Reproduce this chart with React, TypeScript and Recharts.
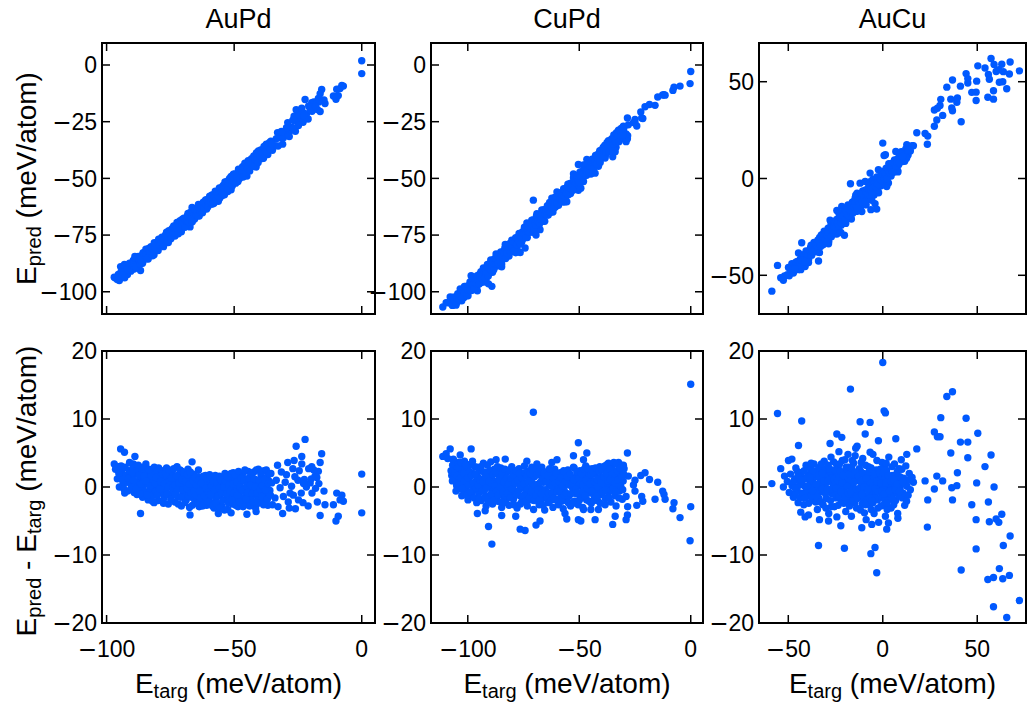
import React from 'react';
import { ScatterChart, Scatter, XAxis, YAxis, ReferenceArea } from 'recharts';

// [E_targ, E_pred - E_targ] in meV/atom.
// The upper panels plot E_pred = E_targ + residual for the same structures.
const auPdPoints: [number, number][] = [
  [-97, 3.4], [-94.5, 5.6], [-93, 5.1], [-95.4, 3.0], [-94.8, 1.6], [-95, 0], [-92, 0.7], [-88.9, 4.5], [-89.5, 3.4],
  [-84.6, 3.4], [-86.7, -3.9], [-81.4, -2.3], [-66.5, 3.7], [-64, 2.5], [-67.3, -4.1], [-56.2, -3.9], [-51.2, -3.8],
  [-45, -4], [-41.4, -3.6], [-41.6, -3.1], [-33, 3.2], [-31, -3.9], [-29, 3.6], [-26.5, 3.9], [-25.7, 6.0], [-22.2, 7.0],
  [-23.5, 4.5], [-23.5, 3.4], [-26, -3.2], [-19.6, 3.0], [-15.7, 4.9], [-16.3, 3.6], [-17, 2.3], [-16.3, -4.2],
  [-17.4, -2.2], [-14.4, -2.6], [-14.8, -0.6], [-11.1, -2.6], [-9.8, -0.9], [-10.1, -5.0], [-9.2, -4.3], [-8.5, -1.9],
  [-7.2, -2.1], [-7.8, -1.2], [0, 1.9], [0, -3.8],
  [-30, 0.7], [-32, -0.1], [-30.7, -1.4], [-28.8, -2.2], [-28.1, -0.9], [-27.5, 0.1], [-26.2, 1.5], [-25, 1.0],
  [-23.7, -0.9], [-23, -2.3], [-21.7, 0.0], [-22.5, 1.1], [-20.2, 0.6], [-19.5, -0.9], [-21, -2.8], [-18.3, 1.6],
  [-18.8, 2.5], [-20.8, 2.7], [-24.5, 2.4], [-27, 2.7], [-29.5, 1.8], [-31.5, 2.2], [-33.5, 1.0], [-34, -1.6],
  [-35, -2.6], [-32.8, -2.9], [-28.4, -3.1], [-24.8, -1.9], [-19.8, 1.2], [-17.6, 1.4], [-16.8, 0.5], [-18.1, -0.2],
  [-26.8, -1.2], [-22.8, 0.5],
  [-96.5, 2.6], [-95.8, 1.2], [-94, 2.2], [-93.5, 0.4], [-93.2, -0.3], [-92.7, 2.9], [-92.3, 1.7], [-91.8, -0.6],
  [-91.2, 2.4], [-90.8, 0.9], [-90.5, -0.4], [-90.1, 1.6], [-89.7, 2.8], [-89.2, -0.8], [-88.8, 0.3], [-88.4, 1.9],
  [-88.1, -1.1], [-87.9, 2.6], [-87.4, 0.8], [-87, -0.2], [-86.6, 1.5], [-86.2, 2.2], [-85.9, -1.5], [-85.5, 0.2],
  [-85.1, 1.1], [-84.8, -0.7], [-84.3, 2.0], [-84, 0.6], [-83.7, -1.9], [-83.3, 1.4], [-83, -0.4], [-82.6, 2.5],
  [-82.2, 0.9], [-81.9, -1.2], [-81.5, 0.1], [-81.1, 1.8], [-80.8, -0.6], [-80.4, 1.0], [-80.1, 2.1], [-79.8, -2.0],
  [-79.4, 0.4], [-79, 1.5], [-78.6, -0.9], [-78.3, 2.4], [-77.9, 0.0], [-77.5, -1.6], [-77.2, 1.2], [-76.8, -0.3],
  [-76.5, 2.8], [-76.1, 0.7], [-75.8, -2.5], [-75.4, 1.6], [-75, -1.0], [-74.7, 0.3], [-74.3, 2.2], [-73.9, -0.6],
  [-73.5, 1.0], [-73.2, -2.2], [-72.8, 0.5], [-72.4, 3.0], [-72.1, -1.4], [-71.8, 1.8], [-71.4, -0.2], [-71, 0.9],
  [-70.7, -2.8], [-70.3, 2.3], [-69.9, -1.0], [-69.5, 0.2], [-69.2, 1.4], [-68.8, -1.9], [-68.5, 0.6], [-68.1, 2.6],
  [-67.8, -0.7], [-67.5, -3.0], [-67, 1.2], [-66.7, -1.5], [-66.2, 0.1], [-65.9, 1.9], [-65.5, -2.4], [-65.1, -0.5],
  [-64.8, 0.8], [-64.4, -1.7], [-64.1, 1.5], [-63.7, -2.9], [-63.4, 0.0], [-63, -1.0], [-62.6, 1.1], [-62.3, -2.1],
  [-61.9, 0.4], [-61.5, -0.7], [-61.2, 1.7], [-60.8, -2.7], [-60.5, -0.2], [-60.1, 0.9], [-59.8, -1.5], [-59.4, 0.5],
  [-59, -2.3], [-58.7, 1.4], [-58.3, -0.9], [-57.9, -3.1], [-57.6, 0.2], [-57.2, -1.7], [-56.9, 1.0], [-56.5, -0.4],
  [-56.1, -2.6], [-55.8, 1.6], [-55.4, -1.2], [-55, 0.4], [-54.7, -2.9], [-54.3, 1.2], [-53.9, -0.6], [-53.6, 2.0],
  [-53.2, -1.8], [-52.8, 0.7], [-52.5, -3.3], [-52.1, -0.1], [-51.8, 1.8], [-51.4, -1.4], [-51, 0.9], [-50.7, -2.5],
  [-50.3, 2.1], [-49.9, -0.3], [-49.6, 1.3], [-49.2, -1.9], [-48.8, 0.3], [-48.5, -2.9], [-48.1, 1.6], [-47.8, -0.8],
  [-47.4, 0.8], [-47, -1.6], [-46.7, 1.9], [-46.3, -0.2], [-45.9, -2.6], [-45.6, 1.1], [-45.2, -1.1], [-44.8, 0.4],
  [-44.5, 2.3], [-44.1, -2.0], [-43.8, -0.5], [-43.4, 1.5], [-43, -1.3], [-42.7, 0.6], [-42.3, 2.2], [-41.9, -2.4],
  [-41.5, -0.3], [-41.2, 1.0], [-40.8, -1.6], [-40.5, 2.6], [-40.1, 0.2], [-39.8, -0.9], [-39.4, 1.7], [-39, -2.2],
  [-38.7, 0.7], [-38.3, 2.4], [-37.9, -1.1], [-37.5, 0.1], [-37.2, 1.4], [-36.8, -2.7], [-36.4, 0.9], [-36, -0.5],
  [-35.6, 2.0],
  [-95.2, 2.0], [-94.3, 3.1], [-93.8, 1.0], [-92.9, -0.9], [-91.5, 1.3], [-91, 3.6], [-90.3, 0.0], [-89.9, 2.1],
  [-89.4, 1.0], [-88.6, -0.3], [-87.6, 3.2], [-87.2, 1.7], [-86.8, -1.0], [-86.4, 0.4], [-85.7, 2.9], [-85.3, 1.6],
  [-84.6, 0.9], [-84.1, -1.2], [-83.5, 2.6], [-82.9, 0.2], [-82.4, 1.6], [-82, -2.1], [-81.3, 2.9], [-81, 0.5],
  [-80.6, 1.4], [-80.2, -1.2], [-79.6, 2.8], [-79.2, -0.3], [-78.8, 0.8], [-78.1, 1.9], [-77.7, -2.4], [-77.3, 0.5],
  [-76.9, 2.0], [-76.3, -1.1], [-75.9, 0.0], [-75.6, 2.5], [-75.2, 0.9], [-74.8, -1.8], [-74.5, 1.3], [-74, -0.1],
  [-73.7, 2.7], [-73.3, 0.3], [-73, -1.1], [-72.6, 1.6], [-72.2, -0.4], [-71.9, -2.5], [-71.6, 0.6], [-71.2, 2.5],
  [-70.9, -1.5], [-70.5, 1.1], [-70.1, -0.4], [-69.7, 2.1], [-69.3, -2.3], [-69, 0.8], [-68.6, -0.2], [-68.3, 1.8],
  [-67.9, -1.3], [-67.6, 0.4], [-67.2, 2.2], [-66.9, -0.9], [-66.4, -2.7], [-66, 0.9], [-65.7, -0.6], [-65.3, 1.4],
  [-64.9, -1.2], [-64.6, 0.3], [-64.2, -2.3], [-63.9, 1.0], [-63.5, -0.6], [-63.2, -1.6], [-62.8, 0.6], [-62.4, -2.8],
  [-62.1, 1.6], [-61.7, -1.3], [-61.4, 0.2], [-61, -0.2], [-60.7, 1.3], [-60.3, -2.2], [-60, -0.8], [-59.6, 1.8],
  [-59.2, -1.1], [-58.9, 0.1], [-58.5, -2.8], [-58.1, 0.8], [-57.7, -0.4], [-57.4, 1.7], [-57, -2.4], [-56.7, 0.5],
  [-56.3, -1.3], [-55.9, -0.2], [-55.6, -3.1], [-55.2, 1.0], [-54.9, -0.8], [-54.5, -2.0], [-54.1, 0.0], [-53.8, -3.4],
  [-53.4, 0.9], [-53, -1.0], [-52.7, 1.5], [-52.3, -2.3], [-52, 0.3], [-51.6, -0.6], [-51.2, 2.0], [-50.9, -1.9],
  [-50.5, 0.4], [-50.1, -0.9], [-49.8, 1.8], [-49.4, -2.7], [-49, 0.7], [-48.7, -1.2], [-48.3, 2.3], [-47.9, -2.2],
  [-47.6, 0.0], [-47.2, 1.3], [-46.9, -0.5], [-46.5, -2.9], [-46.1, 0.9], [-45.8, 2.5], [-45.4, -1.8], [-45, 0.2],
  [-44.7, -0.8], [-44.3, 1.3], [-43.9, -2.8], [-43.6, 0.3], [-43.2, 1.9], [-42.9, -0.9], [-42.5, -2.2], [-42.1, 1.2],
  [-41.7, 0.0], [-41.3, 2.5], [-41, -0.9], [-40.6, -2.4], [-40.3, 1.0], [-39.9, -0.3], [-39.6, 2.1], [-39.2, -1.4],
  [-38.9, 0.2], [-38.5, -2.6], [-38.1, 1.1], [-37.7, -0.4], [-37.4, 2.5], [-37, -1.8], [-36.6, 0.5], [-36.2, 1.9],
  [-35.8, -1.2], [-35.3, 0.6],
];

const cuPdPoints: [number, number][] = [
  [-111.2, 4.5], [-109.7, 4.9], [-107.9, 5.6], [-109, 4.2], [-106.4, 3.9], [-103.4, 4.7], [-107.2, 1.7], [-105.2, 0.7],
  [-102.7, -1.3], [-98.5, 5.6], [-101.5, 3.8], [-95.7, -3.9], [-92.2, -3.5], [-90.7, -5.8], [-89.2, -8.4], [-70.6, 11.0],
  [-78.5, -4.3], [-84.8, -4.2], [-76.5, -6.2], [-74.3, -6.4], [-69.4, -5.6], [-67.6, -5.0], [-73.5, 3.8], [-69, 3.4],
  [-62.3, 3.6], [-60, 4.0], [-56.4, -3.9], [-55.6, -4.7], [-52.6, 4.6], [-50.4, 6.5], [-52.3, 2.8], [-50.4, -4.8],
  [-49.3, -5.0], [-48.1, 4.0], [-46.6, 5.0], [-48.1, -3.3], [-42.9, -4.8], [-44.8, -3.3], [-41.4, -3.3], [-39.2, 2.9],
  [-36.9, 3.5], [-35, -5.5], [-33.9, -4.3], [-33.5, -2.8], [-38.4, -2.6], [-32.4, 3.6], [-30.2, 3.2], [-28.4, 5.0],
  [-29, -4.8], [-28.4, -4.1], [-28.3, -2.9], [-29, -1.4], [-28, 1.6], [-25.7, 0.3], [-25, -0.6], [-25, 1.0],
  [-24.2, -2.7], [-22, -1.4], [-21.5, -2.1], [-22.4, 1.7], [-20.5, 2.1], [-18.5, 1.1], [-16, -1.8], [-14.8, 0.7],
  [-12.6, -0.6], [-12, -1.1], [-11.5, -1.8], [-7.5, -2.3], [-8, -3.2], [-4.8, -4.5], [0, 15.1], [0, -2.9], [-0.3, -7.9],
  [-106.8, 3.2], [-106.2, 1.4], [-105.6, 2.5], [-105, 0.2], [-104.5, 3.6], [-104, 1.0], [-103.6, -0.3], [-103.1, 2.2],
  [-102.6, 0.6], [-102.1, 3.0], [-101.7, -0.8], [-101.2, 1.7], [-100.8, 0.0], [-100.3, 2.6], [-99.9, -1.9], [-99.5, 1.1],
  [-99, 3.3], [-98.6, 0.4], [-98.1, -1.2], [-97.7, 2.0], [-97.3, -0.4], [-96.9, 3.0], [-96.4, 0.8], [-96, -2.3],
  [-95.6, 1.5], [-95.1, -0.9], [-94.7, 2.4], [-94.3, 0.1], [-93.9, -2.0], [-93.5, 1.2], [-93, 3.5], [-92.6, -0.6],
  [-92.2, 0.7], [-91.8, -2.8], [-91.4, 2.1], [-91, 0.3], [-90.6, -1.4], [-90.1, 1.6], [-89.7, 3.7], [-89.3, -0.2],
  [-88.9, -2.5], [-88.5, 0.9], [-88.1, 2.6], [-87.7, -1.0], [-87.3, 4.0], [-86.9, 0.5], [-86.5, -2.1], [-86.1, 1.8],
  [-85.6, -0.5], [-85.2, 2.8], [-84.8, -3.0], [-84.4, 0.2], [-84, 1.3], [-83.6, -1.6], [-83.2, 4.1], [-82.8, -0.3],
  [-82.4, 2.2], [-82, 0.7], [-81.5, -2.7], [-81.1, 1.0], [-80.7, -0.9], [-80.3, 3.0], [-79.9, 0.1], [-79.5, -1.8],
  [-79.1, 2.0], [-78.7, -0.6], [-78.3, 1.4], [-77.9, -3.1], [-77.4, 0.5], [-77, 2.7], [-76.6, -1.3], [-76.2, 0.9],
  [-75.8, -2.2], [-75.4, 1.9], [-75, -0.1], [-74.6, 3.1], [-74.2, -1.0], [-73.8, 0.6], [-73.3, -2.8], [-72.9, 2.3],
  [-72.5, -0.4], [-72.1, 1.2], [-71.7, -1.9], [-71.3, 2.9], [-70.9, 0.2], [-70.5, -3.3], [-70.1, 1.5], [-69.7, -0.8],
  [-69.2, 2.6], [-68.8, -1.5], [-68.4, 0.4], [-68, -2.6], [-67.6, 1.8], [-67.2, -0.3], [-66.8, 2.9], [-66.4, -1.7],
  [-66, 0.7], [-65.5, -3.4], [-65.1, 1.4], [-64.7, -0.7], [-64.3, 2.3], [-63.9, -2.3], [-63.5, 0.3], [-63.1, 1.9],
  [-62.7, -1.2], [-62.3, 0.9], [-61.8, -3.0], [-61.4, -0.4], [-61, 2.6], [-60.6, -1.9], [-60.2, 0.5], [-59.8, 1.6],
  [-59.3, -2.6], [-58.9, 0.0], [-58.5, 2.1], [-58.1, -1.1], [-57.7, 1.0], [-57.2, -3.2], [-56.8, -0.5], [-56.4, 1.7],
  [-56, -2.0], [-55.5, 0.4], [-55.1, 2.5], [-54.7, -1.4], [-54.3, 0.8], [-53.9, -2.8], [-53.4, 1.4], [-53, -0.2],
  [-52.6, 2.9], [-52.2, -2.1], [-51.8, 0.6], [-51.3, -1.0], [-50.9, 1.8], [-50.5, -2.6], [-50.1, 0.2], [-49.7, 2.4],
  [-49.2, -1.5], [-48.8, 0.9], [-48.4, -3.0], [-48, 1.5], [-47.5, -0.4], [-47.1, 3.1], [-46.7, -1.9], [-46.3, 0.7],
  [-45.9, 2.0], [-45.4, -0.9], [-45, 1.2], [-44.6, -2.4], [-44.2, 2.7], [-43.8, 0.1], [-43.3, -1.3], [-42.9, 1.9],
  [-42.5, -0.6], [-42.1, 2.4], [-41.7, -2.0], [-41.2, 0.8], [-40.8, 3.0], [-40.4, -1.1], [-40, 1.5], [-39.6, -0.3],
  [-39.1, 2.6], [-38.7, 0.4], [-38.3, -1.7], [-37.9, 1.2], [-37.5, 3.3], [-37, -0.8], [-36.6, 2.0], [-36.2, 0.1],
  [-35.8, -2.2], [-35.4, 2.9], [-34.9, 0.7], [-34.5, 3.6], [-34.1, -1.3], [-33.7, 1.6], [-33.3, 3.4], [-32.8, 0.3],
  [-32.4, 2.4], [-32, -0.6], [-31.6, 1.2], [-31.2, 3.2], [-30.7, -1.8], [-30.3, 0.9], [-29.9, 2.7],
  [-107.5, 2.4], [-106.9, 0.9], [-106.5, 4.1], [-105.9, 2.0], [-105.3, -0.6], [-104.8, 1.7], [-104.2, 2.9],
  [-103.8, 0.4], [-103.3, 1.3], [-102.9, 3.6], [-102.4, -0.2], [-101.9, 2.0], [-101.4, 0.9], [-101, 3.3],
  [-100.5, -1.2], [-100.1, 1.4], [-99.7, 0.3], [-99.2, 2.3], [-98.8, -0.7], [-98.3, 1.7], [-97.9, 3.8], [-97.5, 0.6],
  [-97.1, -1.6], [-96.6, 1.9], [-96.2, -0.2], [-95.8, 2.9], [-95.3, 0.3], [-94.9, -1.7], [-94.5, 1.0], [-94.1, 3.0],
  [-93.7, -0.6], [-93.2, 0.8], [-92.8, 2.2], [-92.4, -1.5], [-92, 1.5], [-91.6, -0.1], [-91.2, 3.2], [-90.8, -2.2],
  [-90.4, 0.8], [-89.9, 2.4], [-89.5, -1.0], [-89.1, 0.5], [-88.7, 1.8], [-88.3, -1.9], [-87.9, 0.2], [-87.5, 2.3],
  [-87.1, -0.6], [-86.7, 3.0], [-86.3, -1.2], [-85.9, 1.1], [-85.4, 0.0], [-85, -2.2], [-84.6, 2.0], [-84.2, -0.8],
  [-83.8, 0.7], [-83.4, 2.6], [-83, -2.3], [-82.6, 1.3], [-82.2, -0.9], [-81.7, 0.4], [-81.3, 2.5], [-80.9, -1.6],
  [-80.5, 1.3], [-80.1, -0.3], [-79.7, 1.8], [-79.3, -2.6], [-78.9, 0.6], [-78.5, 2.4], [-78.1, -1.1], [-77.6, 1.0],
  [-77.2, -0.5], [-76.8, 2.0], [-76.4, -2.5], [-76, 0.2], [-75.6, 1.2], [-75.2, -1.4], [-74.8, 0.5], [-74.4, 2.1],
  [-74, -2.1], [-73.6, 1.6], [-73.1, -0.3], [-72.7, 0.8], [-72.3, -1.5], [-71.9, 2.0], [-71.5, -0.7], [-71.1, 0.6],
  [-70.7, 2.4], [-70.3, -2.0], [-69.9, 0.3], [-69.5, -1.2], [-69, 1.8], [-68.6, -0.4], [-68.2, 2.2], [-67.8, -1.9],
  [-67.4, 0.7], [-67, -1.0], [-66.6, 1.3], [-66.2, -2.7], [-65.8, 2.0], [-65.3, -0.4], [-64.9, 0.8], [-64.5, -1.6],
  [-64.1, 1.7], [-63.7, -0.9], [-63.3, 2.7], [-62.9, -2.0], [-62.5, 0.1], [-62.1, -0.9], [-61.6, 1.3], [-61.2, -1.7],
  [-60.8, 0.6], [-60.4, 2.0], [-60, -0.7], [-59.6, -1.8], [-59.1, 0.8], [-58.7, -0.6], [-58.3, 1.4], [-57.9, -2.1],
  [-57.5, 0.2], [-57, 2.4], [-56.6, -1.2], [-56.2, 0.8], [-55.8, -0.9], [-55.3, 1.5], [-54.9, -2.3], [-54.5, 0.3],
  [-54.1, 1.9], [-53.6, -1.0], [-53.2, 0.5], [-52.8, -2.4], [-52.4, 1.1], [-51.6, -0.3], [-51.1, 2.2], [-50.7, -0.8],
  [-50.3, 1.3], [-49.9, -1.9], [-49.5, 0.5], [-49, 1.9], [-48.6, -0.7], [-48.2, 0.3], [-47.8, 2.6], [-47.3, -1.3],
  [-46.9, 1.0], [-46.5, -0.2], [-46.1, 2.7], [-45.6, -2.1], [-45.2, 0.5], [-44.8, 1.8], [-44.4, -0.6], [-44, 2.1],
  [-43.5, -2.0], [-43.1, 0.8], [-42.7, 2.8], [-42.3, -1.4], [-41.9, 1.1], [-41.5, 0.0], [-41, 2.3], [-40.6, -2.4],
  [-40.2, 0.6], [-39.8, 2.6], [-39.4, -0.7], [-38.9, 1.5], [-38.5, 3.1], [-38.1, -0.4], [-37.7, 2.0], [-37.2, 0.9],
  [-36.8, -1.6], [-36.4, 2.6], [-36, 1.1], [-35.6, -0.5], [-35.1, 1.9], [-34.7, -0.2], [-34.3, 2.0], [-33.9, 0.6],
  [-33.5, -0.7], [-33, 2.4], [-32.6, 1.0], [-32.2, -1.6], [-31.8, 2.8], [-31.4, 0.1], [-31, 1.6], [-30.5, -0.4],
  [-30.1, 1.9],
];

const auCuPoints: [number, number][] = [
  [-58.7, 0.5], [-55.7, 10.8], [-54, 2.7], [-52, 1.6], [-52.6, 0], [-49.9, 3.9], [-48.1, 4.1], [-42.9, 9.7],
  [-44.6, 6.1], [-45.2, 2.3], [-43.4, -3.7], [-41.1, -4.4], [-39.3, -4.1], [-34, -8.6], [-33.5, -4.8], [-28.7, -5.0],
  [-24.3, -4.4], [-27.9, 6.4], [-24.3, 7.8], [-21.7, 7.3], [-20.3, -9.0], [-22.2, -5.7], [-17.1, 14.4], [-12, 9.6],
  [-6.7, 9.5], [-4.1, -8.9], [-6.3, -9.8], [-3.2, -12.6], [0, 18.3], [0.7, 11.2], [1.4, 10.9], [-9.3, 7.8],
  [-14.3, 5.7], [-6.7, 5.1], [-2.3, 6.8], [6.9, 7.1], [12.7, 4.8], [18, 5.6], [7.9, -3.9], [3, -5.3], [2.1, -6.2],
  [-11.1, -6.0], [-5.8, -5.5], [16.2, 0.7], [22.4, 0.9], [23.8, -1.9], [23.6, -5.9], [27.3, 8.1], [28.9, 7.4],
  [30.3, 7.4], [30.7, 10.2], [28.6, 1.6], [27.3, -0.3], [31.7, 0.9], [33.9, 13.3], [36.9, 14.0], [36, 5.0],
  [36.5, -0.1], [36.9, -1.9], [39.5, 2.1], [39.2, 0.2], [41.1, 6.6], [41.5, -12.2], [44.1, 10.1], [45, 6.6],
  [45, 4.3], [47.1, -2.6], [49.7, 0.6], [49.4, -4.8], [49.4, -9.1], [50.3, 7.9], [54.1, 3.0], [55.9, -2.2],
  [55.6, -13.6], [57.3, 4.7], [56.4, -5.1], [58.6, -13.3], [58.6, -17.6], [58.9, 0], [60, -4.7], [61.4, -5.2],
  [63, -4.0], [61.7, -12.0], [63.5, -13.5], [63.8, -8.6], [65.6, -19.2], [67, -13.0], [67.4, -7.2], [72.3, -16.7],
  [-50.5, 0.8], [-49.5, -0.8], [-48.8, 1.9], [-48, 0.2], [-47.3, -1.5], [-46.7, 1.1], [-46, 2.8], [-45.4, -0.4],
  [-44.8, -2.3], [-44.2, 0.9], [-43.6, 2.1], [-43, -0.9], [-42.4, 1.4], [-41.8, -2.6], [-41.2, 0.1], [-40.6, 3.2],
  [-40, -1.3], [-39.4, 1.8], [-38.8, -0.5], [-38.2, 2.6], [-37.6, -2.0], [-37, 0.6], [-36.4, 3.4], [-35.8, -1.1],
  [-35.2, 1.5], [-34.6, -3.3], [-34, 0.2], [-33.4, 2.9], [-32.8, -0.7], [-32.2, 1.0], [-31.6, -2.6], [-31, 3.8],
  [-30.4, 0.4], [-29.8, -1.7], [-29.2, 2.2], [-28.6, -3.9], [-28, 0.9], [-27.4, 4.4], [-26.8, -1.0], [-26.2, 2.0],
  [-25.6, -2.9], [-25, 0.3], [-24.4, 3.3], [-23.8, -0.6], [-23.2, 5.2], [-22.6, 1.4], [-22, -2.2], [-21.4, 3.9],
  [-20.8, -0.3], [-20.2, 2.3], [-19.6, -3.6], [-19, 0.8], [-18.4, 4.8], [-17.8, -1.4], [-17.2, 2.6], [-16.6, -4.3],
  [-16, 0.0], [-15.4, 3.5], [-14.8, -2.3], [-14.2, 1.3], [-13.6, 6.0], [-13, -0.9], [-12.4, 2.7], [-11.8, -3.4],
  [-11.2, 0.6], [-10.6, 4.2], [-10, -1.8], [-9.4, 1.9], [-8.8, -4.8], [-8.2, 0.2], [-7.6, 3.0], [-7, -2.6],
  [-6.4, 1.2], [-5.8, -0.8], [-5.2, 4.8], [-4.6, -3.9], [-4, 0.7], [-3.4, 2.5], [-2.8, -1.9], [-2.2, -5.2],
  [-1.6, 1.6], [-1, -0.4], [-0.4, 3.6], [0.2, -2.7], [0.8, 0.9], [1.4, -4.3], [2, 2.4], [2.6, -1.2], [3.2, 4.4],
  [3.8, 0.2], [4.4, -3.1], [5, 1.7], [5.6, -0.6], [6.2, 3.4], [6.8, -2.0], [7.4, 1.0], [8, -4.6], [8.6, 2.7],
  [9.2, -0.3], [9.8, 4.0], [10.4, -1.6], [11, 1.3], [11.6, -2.7], [12.2, 3.1], [12.8, 0.1], [13.4, -1.2], [14, 2.0],
  [14.6, -0.4], [15.5, 1.4],
  [-37.3, 1.0], [-35, -0.6], [-33, 0.8], [-30.8, -0.1], [-28.3, 1.7], [-26.5, 0.5], [-24.6, -1.6], [-22.3, 0.2],
  [-20.4, 1.1], [-18.7, -2.0], [-16.3, 1.8], [-14.5, -0.5], [-12.7, 0.9], [-10.8, -0.6], [-9, 0.8], [-7.3, -1.0],
  [-5.5, 2.0], [-3.7, -0.9], [-1.9, 0.4], [0, 1.5], [1.7, -0.3], [3.5, -1.8], [5.3, 0.6], [7.1, -0.8], [9, 1.5],
  [-31.4, 2.7], [-27.6, -2.0], [-23.5, 2.7], [-21.1, -1.1], [-17.5, 0.4], [-15.7, -1.3], [-11.5, 2.2], [-8.5, -1.4],
  [-6.1, -3.3], [-2.5, 1.0], [-0.7, -1.5], [1.1, 2.9], [2.9, 0.5], [4.7, -1.5], [6.5, 1.6],
  [-47.5, 0.6], [-46.3, -0.9], [-45, 1.5], [-43.9, -1.6], [-42.8, 0.4], [-41.6, 2.4], [-40.3, -0.4], [-39.2, -2.4],
  [-38.5, 0.9], [-37.9, 3.5], [-36.7, -0.2], [-36.1, 1.9], [-35.5, -2.2], [-34.3, 2.5], [-33.7, -1.7], [-32.5, 3.4],
  [-31.9, -0.3], [-30.7, 1.6], [-30.1, -3.1], [-29.5, 0.8], [-28.9, 3.2], [-27.7, -0.4], [-27.1, 1.3], [-26, 3.7],
  [-25.3, -1.1], [-24.1, 1.6], [-23.6, -2.7], [-22.9, 3.4], [-21.8, -0.2], [-21.2, 2.0], [-20.6, -2.4], [-20, 4.0],
  [-19.3, 1.5], [-18.9, -0.9], [-18.1, 2.9], [-17.6, -2.8], [-16.9, 1.0], [-16.1, 3.9], [-15.1, -1.8], [-14.6, 4.6],
  [-13.9, -3.1], [-13.3, 2.0], [-12.1, -1.5], [-11.4, 3.6], [-10.9, -2.5], [-10.2, 1.0], [-9.7, -3.8], [-9.1, 3.2],
  [-8.4, -2.2], [-7.9, 1.4], [-6.8, 0.1], [-6.2, 2.8], [-5.3, -2.3], [-4.8, 1.5], [-4.2, -1.6], [-3.1, 3.9],
  [-2.6, -3.1], [-1.3, 2.6], [-0.9, -2.8], [0.4, 0.1], [1.0, -1.9], [1.8, 3.5], [2.3, -3.3], [3.4, 1.3], [4.1, -0.5],
  [4.9, 3.0], [5.8, -2.6], [6.6, 0.4], [7.7, 2.3], [8.4, -1.3], [9.5, 0.5], [10.1, 2.6], [10.8, -0.9], [11.9, 0.4],
  [12.6, -2.1], [13.7, 1.0],
  [-44, 0.3], [-42, -1.1], [-40.8, 1.2], [-39.8, 0.1], [-38, -1.4], [-36.9, 2.4], [-35.3, 0.4], [-34.8, -1.5],
  [-33.9, 1.7], [-32.9, -2.2], [-32, 2.0], [-31.2, 0.9], [-30.3, -1.0], [-29.3, -0.3], [-28.8, 1.0], [-27.9, 2.6],
  [-27.2, -2.9], [-26.4, -0.3], [-25.8, 1.1], [-25.2, 2.5], [-24.8, -0.2], [-23.9, 1.0], [-23.3, -1.4], [-22.5, 2.3],
  [-22.1, -0.7], [-21.5, 0.6], [-20.9, 1.7], [-20.1, -1.5], [-19.4, 2.9], [-18.8, 0.1], [-18.3, -1.0], [-17.7, 1.9],
  [-17, -0.7], [-16.5, 2.8], [-15.9, -2.0], [-15.3, 0.7], [-14.7, 2.2], [-14.1, -0.3], [-13.5, -1.7], [-12.9, 1.6],
  [-12.3, -0.2], [-11.6, 0.8], [-11, -1.1], [-10.4, 2.0], [-9.9, 0.0], [-9.2, -2.6], [-8.7, 1.3], [-8, -0.4],
  [-7.4, 2.2], [-6.9, -1.6], [-6.3, 0.6], [-5.7, -2.0], [-5.1, 0.2], [-4.4, 1.9], [-3.9, -0.2], [-3.2, 0.8],
  [-2.4, -0.7], [-1.7, 2.1], [-1.1, 0.6], [-0.5, -0.6], [0.3, 2.1], [0.9, -1.0], [1.5, 0.6], [2.2, -2.3], [2.8, 1.7],
  [3.6, -0.6], [4.3, 0.9], [5.1, -1.8], [5.9, 1.1], [6.8, -0.4], [7.6, 0.4], [8.8, -0.7], [10.6, 0.8], [-46.5, -0.1],
  [-43.2, 1.0], [-41.3, -1.6], [-38.6, 1.4], [-37.2, -0.6],
];

const titles = ['AuPd', 'CuPd', 'AuCu'];
const xTicksAll = [[-100, -50, 0], [-100, -50, 0], [-50, 0, 50]];
const yTicksTop = [[0, -25, -50, -75, -100], [0, -25, -50, -75, -100], [50, 0, -50]];
const yTicksBottom = [20, 10, 0, -10, -20];
const xDomains: [number, number][] = [[-101.8, 5.2], [-116.5, 5.5], [-65.5, 75.8]];
const yDomainsTop: [number, number][] = [[-109.8, 9.7], [-109.8, 9.7], [-70, 70]];
const yDomainBottom: [number, number] = [-20, 20];

const cols = [
  { left: 102, width: 273 },
  { left: 431, width: 272 },
  { left: 759, width: 267 },
];
const rows = [
  { top: 43, height: 271 },
  { top: 351, height: 272 },
];

const BLUE = '#0059ff';
const FONT = '"Liberation Sans", Arial, Helvetica, sans-serif';
const AXIS_W = 70;
const AXIS_H = 45;
const TOP_M = 12;
const RIGHT_M = 4;
const TICK_LEN = 8;
const GAP = 5;

const tickText = (v: number) =>
  v < 0 ? (
    <>
      <tspan fontFamily="DejaVu Sans">{'\u2212'}</tspan>
      {String(Math.abs(v))}
    </>
  ) : (
    String(v)
  );

const makeYTick = (plotW: number) => (props: any) => {
  const { x, y, payload } = props;
  const x0 = x + GAP;
  return (
    <g>
      <line x1={x0} x2={x0 + TICK_LEN} y1={y} y2={y} stroke="#000" strokeWidth={1.5} />
      <line x1={x0 + plotW - TICK_LEN} x2={x0 + plotW} y1={y} y2={y} stroke="#000" strokeWidth={1.5} />
      <text x={x} y={y} dy="0.36em" textAnchor="end" fontSize={23} fontFamily={FONT} fill="#000">
        {tickText(payload.value)}
      </text>
    </g>
  );
};

const makeXTick = (plotH: number, labels: boolean) => (props: any) => {
  const { x, y, payload } = props;
  return (
    <g>
      <line x1={x} x2={x} y1={y} y2={y - TICK_LEN} stroke="#000" strokeWidth={1.5} />
      <line x1={x} x2={x} y1={y - plotH} y2={y - plotH + TICK_LEN} stroke="#000" strokeWidth={1.5} />
      {labels && (
        <text x={x} y={y + 34} textAnchor="middle" fontSize={23} fontFamily={FONT} fill="#000">
          {tickText(payload.value)}
        </text>
      )}
    </g>
  );
};

const dot = (p: any) => <circle cx={p.cx} cy={p.cy} r={3.7} fill={BLUE} />;

interface PanelProps {
  col: { left: number; width: number };
  row: { top: number; height: number };
  data: { x: number; y: number }[];
  xDomain: [number, number];
  yDomain: [number, number];
  xTicks: number[];
  yTicks: number[];
  xLabels: boolean;
}

const Panel = ({ col, row, data, xDomain, yDomain, xTicks, yTicks, xLabels }: PanelProps) => (
  <div style={{ position: 'absolute', left: col.left - AXIS_W, top: row.top - TOP_M }}>
    <ScatterChart
      width={AXIS_W + col.width + RIGHT_M}
      height={TOP_M + row.height + AXIS_H}
      margin={{ top: TOP_M, right: RIGHT_M, bottom: 0, left: 0 }}
    >
      <XAxis
        type="number"
        dataKey="x"
        domain={xDomain}
        ticks={xTicks}
        allowDataOverflow
        interval={0}
        axisLine={false}
        tickLine={false}
        tickSize={0}
        tickMargin={0}
        height={AXIS_H}
        tick={makeXTick(row.height, xLabels)}
      />
      <YAxis
        type="number"
        dataKey="y"
        domain={yDomain}
        ticks={yTicks}
        allowDataOverflow
        interval={0}
        axisLine={false}
        tickLine={false}
        tickSize={0}
        tickMargin={GAP}
        width={AXIS_W}
        tick={makeYTick(col.width)}
      />
      <Scatter data={data} isAnimationActive={false} shape={dot} />
      <ReferenceArea
        x1={xDomain[0]}
        x2={xDomain[1]}
        y1={yDomain[0]}
        y2={yDomain[1]}
        fill="none"
        fillOpacity={0}
        stroke="#000"
        strokeWidth={2}
        strokeOpacity={1}
      />
    </ScatterChart>
  </div>
);

const allPoints = [auPdPoints, cuPdPoints, auCuPoints];

export default function App() {
  return (
    <div
      style={{
        position: 'absolute',
        left: 0,
        top: 0,
        width: 1027,
        height: 706,
        overflow: 'hidden',
        background: '#fff',
        fontFamily: FONT,
      }}
    >
      {cols.map((c, i) => (
        <Panel
          key={'top' + i}
          col={c}
          row={rows[0]}
          data={allPoints[i].map(([t, e]) => ({ x: t, y: t + e }))}
          xDomain={xDomains[i]}
          yDomain={yDomainsTop[i]}
          xTicks={xTicksAll[i]}
          yTicks={yTicksTop[i]}
          xLabels={false}
        />
      ))}
      {cols.map((c, i) => (
        <Panel
          key={'bot' + i}
          col={c}
          row={rows[1]}
          data={allPoints[i].map(([t, e]) => ({ x: t, y: e }))}
          xDomain={xDomains[i]}
          yDomain={yDomainBottom}
          xTicks={xTicksAll[i]}
          yTicks={yTicksBottom}
          xLabels={true}
        />
      ))}
      <svg
        width={1027}
        height={706}
        style={{ position: 'absolute', left: 0, top: 0, pointerEvents: 'none' }}
        fontFamily={FONT}
      >
        {cols.map((c, i) => (
          <text key={'t' + i} x={c.left + c.width / 2} y={28} textAnchor="middle" fontSize={27} fill="#000">
            {titles[i]}
          </text>
        ))}
        {cols.map((c, i) => (
          <text key={'x' + i} x={c.left + c.width / 2} y={693} textAnchor="middle" fontSize={28} fill="#000">
            E
            <tspan fontSize={20} dy={5}>targ</tspan>
            <tspan dy={-5}>{' (meV/atom)'}</tspan>
          </text>
        ))}
        <text transform={`translate(36, ${rows[0].top + rows[0].height / 2}) rotate(-90)`} textAnchor="middle" fontSize={28} fill="#000">
          E
          <tspan fontSize={20} dy={5}>pred</tspan>
          <tspan dy={-5}>{' (meV/atom)'}</tspan>
        </text>
        <text transform={`translate(36, ${rows[1].top + rows[1].height / 2 + 4}) rotate(-90)`} textAnchor="middle" fontSize={28} fill="#000">
          E
          <tspan fontSize={20} dy={5}>pred</tspan>
          <tspan dy={-5}>{' - E'}</tspan>
          <tspan fontSize={20} dy={5}>targ</tspan>
          <tspan dy={-5}>{' (meV/atom)'}</tspan>
        </text>
      </svg>
    </div>
  );
}
